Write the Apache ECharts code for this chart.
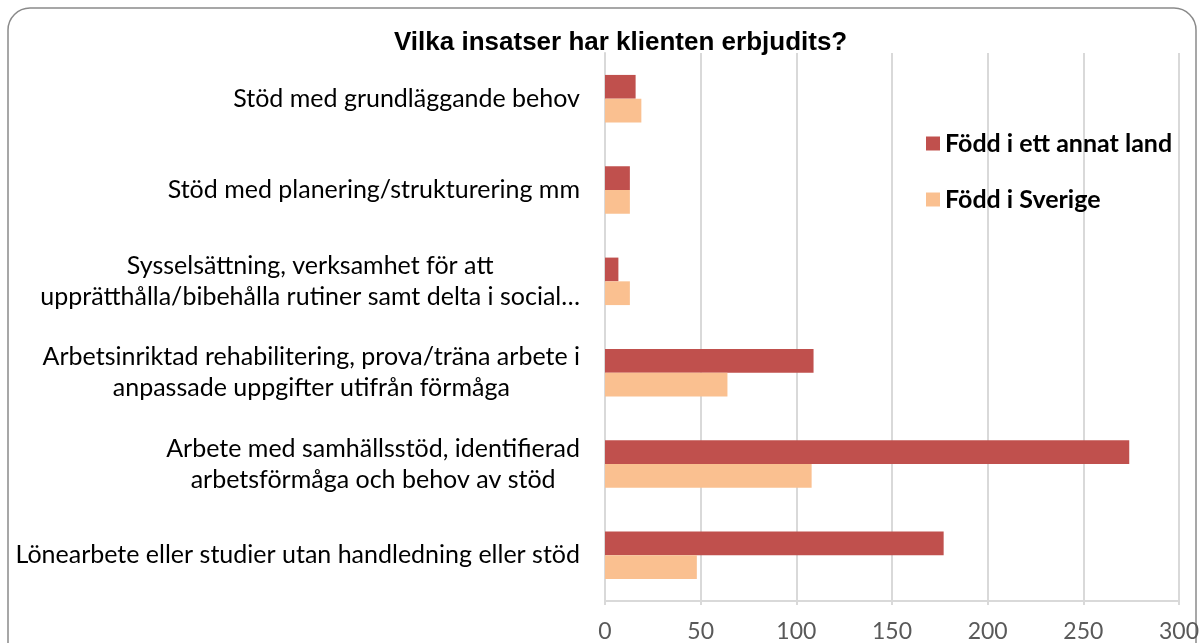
<!DOCTYPE html>
<html>
<head>
<meta charset="utf-8">
<script src="https://cdn.jsdelivr.net/npm/echarts@6/dist/echarts.min.js"></script>
<style>
  html, body { margin: 0; padding: 0; background: #fff; }
  #chart { width: 1202px; height: 643px; }
</style>
</head>
<body>
<div id="chart"></div>
<script>
const categories = [
  "Stöd med grundläggande behov",
  "Stöd med planering/strukturering mm",
  "Sysselsättning, verksamhet för att\nupprätthålla/bibehålla rutiner samt delta i social…",
  "Arbetsinriktad rehabilitering, prova/träna arbete i\nanpassade uppgifter utifrån förmåga",
  "Arbete med samhällsstöd, identifierad\narbetsförmåga och behov av stöd",
  "Lönearbete eller studier utan handledning eller stöd"
];
const bornAbroad = [16, 13, 7, 109, 274, 177];
const bornSweden = [19, 13, 13, 64, 108, 48];
const seriesNames = ["Född i ett annat land", "Född i Sverige"];
const seriesColors = ["#c0504d", "#fac090"];

const chart = echarts.init(document.getElementById("chart"));
const labelFont = "Lato, 'Open Sans', sans-serif";

chart.setOption({
  backgroundColor: "#fff",
  animation: false,
  graphic: [{
    type: "rect",
    shape: { x: 8, y: 8, width: 1188, height: 680, r: 22 },
    style: { fill: "none", stroke: "#8a8a8a", lineWidth: 1.5 },
    silent: true
  }],
  title: {
    text: "Vilka insatser har klienten erbjudits?",
    left: 389,
    top: 25,
    textStyle: { fontFamily: "'Liberation Sans', Arial", fontWeight: "bold", fontSize: 26, color: "#000" }
  },
  legend: {
    orient: "vertical",
    left: 921,
    top: 126,
    itemWidth: 14,
    itemHeight: 14,
    itemGap: 31,
    icon: "rect",
    textStyle: { fontFamily: labelFont, fontWeight: "bold", fontSize: 25, color: "#000" },
    data: seriesNames
  },
  grid: { left: 605, right: 23, top: 53, bottom: 42, containLabel: false },
  xAxis: {
    type: "value",
    min: 0,
    max: 300,
    interval: 50,
    axisLine: { show: true, lineStyle: { color: "#d9d9d9", width: 2 } },
    axisTick: { show: true, length: 4, lineStyle: { color: "#d9d9d9", width: 2 } },
    splitLine: { show: true, lineStyle: { color: "#d9d9d9", width: 2 } },
    axisLabel: { color: "#595959", fontFamily: labelFont, fontSize: 23, margin: 19 }
  },
  yAxis: {
    type: "category",
    inverse: true,
    data: categories,
    axisLine: { show: true, lineStyle: { color: "#d9d9d9", width: 2 } },
    axisTick: { show: false },
    axisLabel: {
      margin: 25,
      formatter: v => v.split("\n").map(s => "{c|" + s + "}").join("\n"),
      rich: {
        c: { fontFamily: labelFont, fontSize: 25, color: "#000", align: "center", lineHeight: 31 }
      }
    }
  },
  series: [
    {
      name: seriesNames[0],
      type: "bar",
      data: bornAbroad,
      barGap: "0%",
      barCategoryGap: "48%",
      itemStyle: { color: seriesColors[0] }
    },
    {
      name: seriesNames[1],
      type: "bar",
      data: bornSweden,
      barGap: "0%",
      barCategoryGap: "48%",
      itemStyle: { color: seriesColors[1] }
    }
  ]
});
</script>
</body>
</html>
